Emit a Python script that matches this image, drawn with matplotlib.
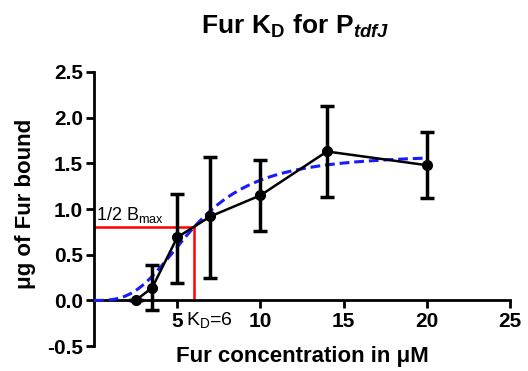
import numpy as np
import matplotlib
matplotlib.use('Agg')
import matplotlib.pyplot as plt

plt.rcParams['font.family'] = ['Liberation Sans', 'DejaVu Sans']
plt.rcParams['mathtext.fontset'] = 'custom'
plt.rcParams['mathtext.rm'] = 'Liberation Sans'
plt.rcParams['mathtext.it'] = 'Liberation Sans:italic:bold'
plt.rcParams['mathtext.bf'] = 'Liberation Sans:bold'

# measured data
conc = [2.5, 3.5, 5, 7, 10, 14, 20]
bound = [0.0, 0.14, 0.69, 0.92, 1.15, 1.63, 1.48]
err_hi = [0.0, 0.25, 0.48, 0.65, 0.39, 0.50, 0.36]
err_lo = [0.0, 0.24, 0.50, 0.67, 0.39, 0.50, 0.36]

# Hill fit parameters
bmax = 1.6
kd = 6
hill_n = 3

x_fit = np.linspace(0, 20, 200)
y_fit = bmax * x_fit**hill_n / (kd**hill_n + x_fit**hill_n)

fig = plt.figure(figsize=(5.28, 3.71), dpi=100)
ax = fig.add_axes([0.178, 0.067, 0.788, 0.739])

ax.plot(x_fit, y_fit, color='#1a1aff', linestyle=(0, (3.2, 1.6)), linewidth=2.2, zorder=3)
ax.errorbar(conc, bound, yerr=[err_lo, err_hi], color='black', marker='o', markersize=7,
            linewidth=1.8, elinewidth=2.5, capsize=5, capthick=2.5, zorder=4)

# 1/2 Bmax and KD guide lines
ax.plot([0, kd], [bmax / 2, bmax / 2], color='red', linewidth=1.8, zorder=2)
ax.plot([kd, kd], [0, bmax / 2], color='red', linewidth=1.8, zorder=2)
ax.text(0.1, bmax / 2 + 0.03, r'1/2 B$_{\mathrm{max}}$', fontsize=13, ha='left', va='bottom')
ax.text(5.5, -0.1, r'K$_{\mathrm{D}}$=6', fontsize=14, ha='left', va='top')

ax.set_xlim(0, 25)
ax.set_ylim(-0.5, 2.5)
ax.spines['top'].set_visible(False)
ax.spines['right'].set_visible(False)
ax.spines['bottom'].set_position(('data', 0))
ax.spines['left'].set_linewidth(2)
ax.spines['bottom'].set_linewidth(2)
ax.set_xticks([5, 10, 15, 20, 25])
ax.set_yticks([-0.5, 0, 0.5, 1.0, 1.5, 2.0, 2.5])
ax.set_yticklabels(['-0.5', '0.0', '0.5', '1.0', '1.5', '2.0', '2.5'])
ax.tick_params(width=2, length=6, labelsize=15, pad=2)
for lab in ax.get_xticklabels() + ax.get_yticklabels():
    lab.set_fontweight('bold')

ax.set_xlabel('Fur concentration in μM', fontsize=16, fontweight='bold')
ax.xaxis.set_label_coords(0.5, -0.0)
ax.set_ylabel('μg of Fur bound', fontsize=16, fontweight='bold')
ax.yaxis.set_label_coords(-0.14, 0.52)
fig.text(0.56, 0.93, r'$\mathbf{Fur\ K_D\ for\ P}_{\mathit{tdfJ}}$', fontsize=19, ha='center', va='center')

fig.savefig('out.png', dpi=100)
